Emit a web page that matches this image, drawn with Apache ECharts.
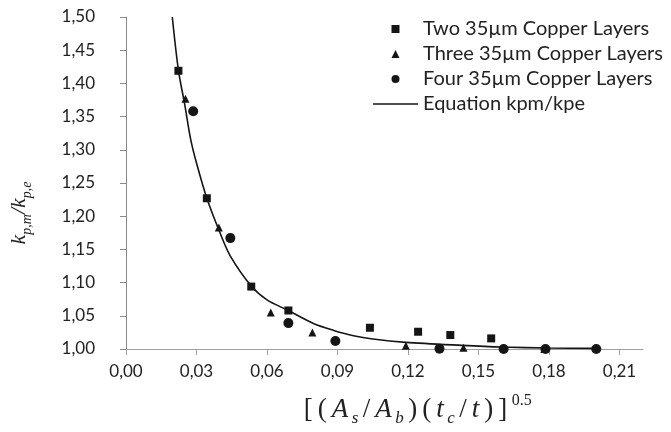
<!DOCTYPE html>
<html>
<head>
<meta charset="utf-8">
<script src="https://cdn.jsdelivr.net/npm/echarts@6/dist/echarts.min.js"></script>
<style>
    html, body { margin: 0; padding: 0; background: #fff; }
    #chart { width: 671px; height: 432px; }
</style>
</head>
<body>
<div id="chart"></div>
<script>
// 读图得到的数据 [x, y]
var twoLayers = [[0.0223, 1.419], [0.0344, 1.227], [0.0533, 1.094], [0.0691, 1.058],
    [0.1038, 1.032], [0.1243, 1.026], [0.1380, 1.021], [0.1554, 1.016]];
var threeLayers = [[0.0253, 1.377], [0.0395, 1.183], [0.0616, 1.055], [0.0793, 1.025],
    [0.1191, 1.005], [0.1436, 1.002], [0.1780, 1.000]];
var fourLayers = [[0.0286, 1.358], [0.0444, 1.167], [0.0691, 1.039], [0.0891, 1.012],
    [0.1334, 1.0005], [0.1607, 1.000], [0.1785, 1.000], [0.2001, 1.000]];
var equationCurve = [[0.0197, 1.500], [0.0223, 1.420], [0.0250, 1.368], [0.0275, 1.316],
    [0.0300, 1.280], [0.0344, 1.227], [0.0400, 1.175], [0.0444, 1.140], [0.0535, 1.094],
    [0.0600, 1.074], [0.0690, 1.058], [0.0800, 1.038], [0.0884, 1.028], [0.0968, 1.020],
    [0.1050, 1.015], [0.1190, 1.010], [0.1430, 1.0055], [0.1600, 1.003], [0.1800, 1.0015],
    [0.2000, 1.001]];
var seriesNames = ['Two 35µm Copper Layers', 'Three 35µm Copper Layers',
    'Four 35µm Copper Layers', 'Equation kpm/kpe'];

var main = function () {
    var dark = '#151515';
    var comma = function (v) {
        return v.toFixed(2).replace('.', ',');
    };
    var chart = echarts.init(document.getElementById('chart'));

    // 图例图标：保持比例
    var icons = [
        'path://M0,0L1,0L1,1L0,1Z',
        'path://M0.5,0L1,1L0,1Z',
        'circle',
        'path://M0,0L45,0L45,1.4L0,1.4Z'
    ];
    var legendData = seriesNames.map(function (name, i) {
        return {name: name, icon: icons[i]};
    });

    var serif = 'Liberation Serif';
    var xName = '{n|[}{n|(}{i|A}{sub|s}{n|/}{i|A}{sub|b}{n|)}{n|(}{i|t}{sub|c}{n|/}{i|t}{n|)}{n|]}{sup|0.5}';

    var option = {
        backgroundColor: '#fff',
        animation: false,
        grid: {left: 119, right: 28, top: 17, bottom: 80},
        legend: {
            orient: 'vertical',
            left: 368,
            top: 14,
            itemWidth: 45,
            itemHeight: 8,
            itemGap: 5,
            symbolKeepAspect: true,
            textStyle: {fontFamily: 'Lato', fontSize: 20, color: '#222'},
            data: legendData
        },
        xAxis: {
            type: 'value',
            min: 0,
            max: 0.22,
            interval: 0.03,
            splitLine: {show: false},
            axisLine: {lineStyle: {color: '#a0a0a0'}},
            axisTick: {length: 6, lineStyle: {color: '#a0a0a0'}},
            axisLabel: {
                margin: 14, showMaxLabel: false,
                fontFamily: 'Lato', fontSize: 17, color: '#222',
                formatter: function (v) {
                    return Math.abs(v / 0.03 - Math.round(v / 0.03)) < 1e-6 ? comma(v) : '';
                }
            },
            name: xName,
            nameLocation: 'middle',
            nameGap: 44,
            nameTextStyle: {
                padding: [0, 0, 0, 64],
                rich: {
                    n: {fontFamily: serif, fontSize: 27, color: '#222', lineHeight: 34, padding: [0, 2.5, 0, 2.5]},
                    i: {fontFamily: serif, fontStyle: 'italic', fontSize: 27, color: '#222', lineHeight: 34, padding: [0, 2.5, 0, 2.5]},
                    sub: {fontFamily: serif, fontStyle: 'italic', fontSize: 17, color: '#222', lineHeight: 14, verticalAlign: 'bottom', padding: [0, 2, 0, 1]},
                    sup: {fontFamily: serif, fontSize: 16, color: '#222', lineHeight: 14, verticalAlign: 'top', padding: [0, 0, 0, 2]}
                }
            }
        },
        yAxis: {
            type: 'value',
            min: 1,
            max: 1.5,
            interval: 0.05,
            splitLine: {show: false},
            axisLine: {show: true, lineStyle: {color: '#8a8a8a'}},
            axisTick: {show: true, length: 6, lineStyle: {color: '#8a8a8a'}},
            axisLabel: {
                margin: 31,
                fontFamily: 'Lato', fontSize: 17, color: '#222', formatter: comma
            },
            name: '{i|k}{sub|p,m}{i|/k}{sub|p,e}',
            nameLocation: 'middle',
            nameRotate: 90,
            nameGap: 92,
            nameTextStyle: {
                padding: [0, 60, 0, 0],
                rich: {
                    i: {fontFamily: serif, fontStyle: 'italic', fontSize: 22, color: '#222', lineHeight: 30},
                    sub: {fontFamily: serif, fontStyle: 'italic', fontSize: 14, color: '#222', lineHeight: 12, verticalAlign: 'bottom'}
                }
            }
        },
        series: [
            {
                name: seriesNames[0], type: 'scatter', symbol: 'rect', symbolSize: 8,
                itemStyle: {color: dark, opacity: 1}, data: twoLayers, z: 3
            },
            {
                name: seriesNames[1], type: 'scatter', symbol: 'triangle', symbolSize: 8,
                itemStyle: {color: dark, opacity: 1}, data: threeLayers, z: 2
            },
            {
                name: seriesNames[2], type: 'scatter', symbol: 'circle', symbolSize: 10,
                itemStyle: {color: dark, opacity: 1}, data: fourLayers, z: 4
            },
            {
                name: seriesNames[3], type: 'line', smooth: 0.3, symbol: 'none',
                lineStyle: {color: dark, width: 1.6}, itemStyle: {color: dark},
                data: equationCurve, z: 5
            }
        ]
    };
    chart.setOption(option);
};
main();
</script>
</body>
</html>
